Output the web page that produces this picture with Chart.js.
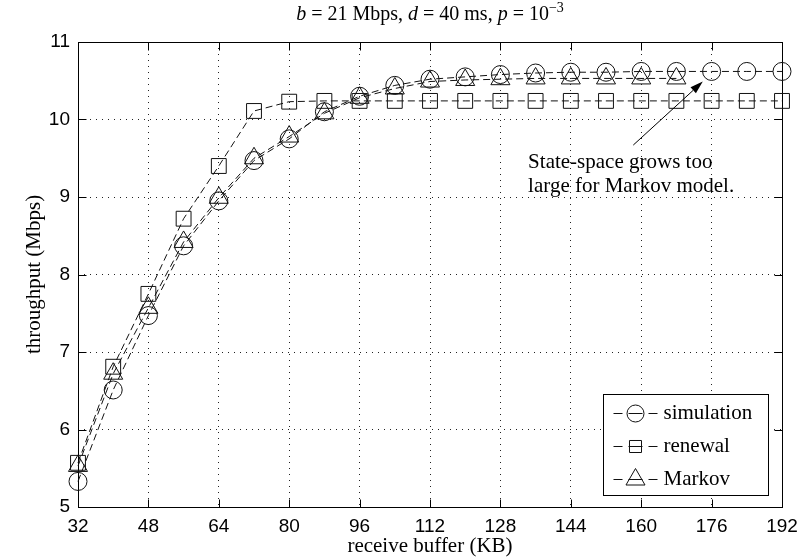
<!DOCTYPE html>
<html>
<head>
<meta charset="utf-8">
<script src="https://cdn.jsdelivr.net/npm/chart.js@4.4.1/dist/chart.umd.min.js"></script>
<style>
  html, body { margin: 0; padding: 0; background: #fff; }
  #wrap { width: 812px; height: 559px; }
</style>
</head>
<body>
<div id="wrap"><canvas id="chart" width="812" height="559"></canvas></div>
<script>
// receive buffer (KB), one point every 8 KB
const bufferKB = [32, 40, 48, 56, 64, 72, 80, 88, 96, 104, 112, 120, 128, 136, 144, 152, 160, 168, 176, 184, 192]

// throughput (Mbps)
const simulation = [5.33, 6.51, 7.47, 8.37, 8.95, 9.47, 9.75, 10.10, 10.30, 10.44, 10.52, 10.55, 10.58, 10.60, 10.61, 10.61, 10.62, 10.62, 10.62, 10.62, 10.62]
const renewal = [5.57, 6.81, 7.75, 8.72, 9.40, 10.11, 10.23, 10.24, 10.24, 10.24, 10.24, 10.24, 10.24, 10.24, 10.24, 10.24, 10.24, 10.24, 10.24, 10.24, 10.24]
// the Markov model stops at 168 KB (state space too large)
const markov = [5.53, 6.72, 7.57, 8.42, 8.99, 9.50, 9.78, 10.08, 10.28, 10.40, 10.49, 10.51, 10.52, 10.53, 10.53, 10.53, 10.53, 10.53, null, null, null]

const xTicks = [32, 48, 64, 80, 96, 112, 128, 144, 160, 176, 192]
const yTicks = [5, 6, 7, 8, 9, 10, 11]

const seriesNames = ["simulation", "renewal", "Markov"]
const seriesStyles = ["circle", "rect", "triangle"]
const noteLines = ["State-space grows too", "large for Markov model."]

const INK = "#111"
const SERIF = "'Liberation Serif', 'Times New Roman', serif"
const SANS = "'Liberation Sans', Arial, sans-serif"

const markerRadius = { circle: 9, rect: 10.5, triangle: 11 }
const legendRadius = { circle: 8.5, rect: 8.5, triangle: 11 }

const toPoints = (values) => bufferKB.map((x, i) => ({ x, y: values[i] }))

const makeDataset = (label, values, style) => ({
  label,
  data: toPoints(values),
  borderColor: INK,
  borderWidth: 1,
  borderDash: [7, 4],
  pointStyle: style,
  pointRadius: markerRadius[style],
  pointHoverRadius: markerRadius[style],
  pointBorderColor: INK,
  pointBackgroundColor: "rgba(0,0,0,0)",
  pointBorderWidth: 1,
  fill: false,
  tension: 0,
  spanGaps: false,
  clip: false,
})

// frame with inward ticks, like the original axes box
const framePlugin = {
  id: "frame",
  beforeDatasetsDraw(chart) {
    const { ctx, chartArea: a, scales } = chart
    const L = Math.round(a.left) + 0.5
    const R = Math.round(a.right) + 0.5
    const T = Math.round(a.top) + 0.5
    const B = Math.round(a.bottom) + 0.5
    ctx.save()
    ctx.strokeStyle = "#000"
    ctx.lineWidth = 1
    ctx.setLineDash([])
    ctx.strokeRect(L, T, R - L, B - T)
    ctx.beginPath()
    xTicks.slice(1, -1).forEach((v) => {
      const px = Math.round(scales.x.getPixelForValue(v)) + 0.5
      ctx.moveTo(px, B); ctx.lineTo(px, B - 8)
      ctx.moveTo(px, T); ctx.lineTo(px, T + 8)
    })
    yTicks.slice(1, -1).forEach((v) => {
      const py = Math.round(scales.y.getPixelForValue(v)) + 0.5
      ctx.moveTo(L, py); ctx.lineTo(L + 8, py)
      ctx.moveTo(R, py); ctx.lineTo(R - 8, py)
    })
    ctx.stroke()
    ctx.restore()
  },
}

// title with italic variables and a superscript exponent
const titlePlugin = {
  id: "texTitle",
  afterDraw(chart) {
    const { ctx, chartArea: a } = chart
    const parts = [
      ["b", true], [" = 21 Mbps, ", false], ["d", true], [" = 40 ms, ", false], ["p", true], [" = 10", false],
    ]
    const sup = "\u22123"
    const size = 20
    ctx.save()
    ctx.fillStyle = "#000"
    ctx.textBaseline = "alphabetic"
    ctx.textAlign = "left"
    let width = 0
    parts.forEach(([t, it]) => {
      ctx.font = `${it ? "italic " : ""}${size}px ${SERIF}`
      width += ctx.measureText(t).width
    })
    ctx.font = `${Math.round(size * 0.7)}px ${SERIF}`
    width += ctx.measureText(sup).width
    let x = (a.left + a.right) / 2 - width / 2
    const y = 20
    parts.forEach(([t, it]) => {
      ctx.font = `${it ? "italic " : ""}${size}px ${SERIF}`
      ctx.fillText(t, x, y)
      x += ctx.measureText(t).width
    })
    ctx.font = `${Math.round(size * 0.7)}px ${SERIF}`
    ctx.fillText(sup, x, y - 8)
    ctx.restore()
  },
}

// annotation arrow and legend box inside the axes
const overlayPlugin = {
  id: "overlay",
  afterDatasetsDraw(chart) {
    const { ctx, chartArea: a, scales } = chart
    const xs = scales.x
    const ys = scales.y
    ctx.save()

    // note text
    ctx.fillStyle = "#000"
    ctx.font = `21px ${SERIF}`
    ctx.textAlign = "left"
    ctx.textBaseline = "alphabetic"
    const tx = xs.getPixelForValue(134.3)
    ctx.fillText(noteLines[0], tx, ys.getPixelForValue(9.38))
    ctx.fillText(noteLines[1], tx, ys.getPixelForValue(9.06))

    // arrow
    const x0 = xs.getPixelForValue(158.2)
    const y0 = ys.getPixelForValue(9.67)
    const x1 = xs.getPixelForValue(174.0)
    const y1 = ys.getPixelForValue(10.49)
    const ang = Math.atan2(y1 - y0, x1 - x0)
    const head = 13
    const half = 4
    ctx.strokeStyle = "#000"
    ctx.lineWidth = 1
    ctx.setLineDash([])
    ctx.beginPath()
    ctx.moveTo(x0, y0)
    ctx.lineTo(x1 - head * Math.cos(ang), y1 - head * Math.sin(ang))
    ctx.stroke()
    ctx.beginPath()
    ctx.moveTo(x1, y1)
    ctx.lineTo(x1 - head * Math.cos(ang) + half * Math.sin(ang), y1 - head * Math.sin(ang) - half * Math.cos(ang))
    ctx.lineTo(x1 - head * Math.cos(ang) - half * Math.sin(ang), y1 - head * Math.sin(ang) + half * Math.cos(ang))
    ctx.closePath()
    ctx.fillStyle = "#000"
    ctx.fill()

    // legend
    const bw = 165
    const bh = 101
    const bx = Math.round(a.right - 14 - bw) + 0.5
    const by = Math.round(a.bottom - 12 - bh) + 0.5
    ctx.fillStyle = "#fff"
    ctx.fillRect(bx, by, bw, bh)
    ctx.strokeStyle = "#000"
    ctx.strokeRect(bx, by, bw, bh)
    seriesNames.forEach((name, i) => {
      const cy = by + 19 + i * 33
      const mx = bx + 32
      ctx.strokeStyle = INK
      ctx.lineWidth = 1
      ctx.beginPath()
      ctx.moveTo(bx + 10, cy); ctx.lineTo(bx + 19, cy)
      ctx.moveTo(bx + 25, cy); ctx.lineTo(bx + 39, cy)
      ctx.moveTo(bx + 45, cy); ctx.lineTo(bx + 54, cy)
      ctx.stroke()
      ctx.fillStyle = "rgba(0,0,0,0)"
      const style = seriesStyles[i]
      Chart.helpers.drawPoint(ctx, { pointStyle: style, radius: legendRadius[style], borderWidth: 1, rotation: 0 }, mx, cy)
      ctx.fillStyle = "#000"
      ctx.font = `21px ${SERIF}`
      ctx.textBaseline = "middle"
      ctx.fillText(name, bx + 60, cy)
    })
    ctx.restore()
  },
}

new Chart(document.getElementById("chart"), {
  type: "line",
  data: {
    datasets: [
      makeDataset(seriesNames[0], simulation, seriesStyles[0]),
      makeDataset(seriesNames[1], renewal, seriesStyles[1]),
      makeDataset(seriesNames[2], markov, seriesStyles[2]),
    ],
  },
  options: {
    responsive: false,
    animation: false,
    events: [],
    layout: { padding: { top: 42, right: 30, left: 0, bottom: 0 } },
    plugins: {
      legend: { display: false },
      tooltip: { enabled: false },
      title: { display: false },
    },
    scales: {
      x: {
        type: "linear",
        min: 32,
        max: 192,
        afterBuildTicks: (scale) => { scale.ticks = xTicks.map((v) => ({ value: v })) },
        afterFit: (scale) => { scale.height = 52 },
        grid: { color: "#222", lineWidth: 1, drawTicks: false },
        border: { display: false, dash: [1, 5] },
        ticks: { color: "#000", padding: 8, maxRotation: 0, autoSkip: false, font: { family: SANS, size: 19 } },
        title: { display: true, text: "receive buffer (KB)", color: "#000", padding: { top: 0, bottom: 0 }, font: { family: SERIF, size: 21 } },
      },
      y: {
        type: "linear",
        min: 5,
        max: 11,
        afterBuildTicks: (scale) => { scale.ticks = yTicks.map((v) => ({ value: v })) },
        afterFit: (scale) => { scale.width = 78 },
        grid: { color: "#222", lineWidth: 1, drawTicks: false },
        border: { display: false, dash: [1, 5] },
        ticks: { color: "#000", padding: 8, font: { family: SANS, size: 19 } },
        title: { display: true, text: "throughput (Mbps)", color: "#000", padding: { top: 22, bottom: 0 }, font: { family: SERIF, size: 21 } },
      },
    },
  },
  plugins: [framePlugin, titlePlugin, overlayPlugin],
})
</script>
</body>
</html>
